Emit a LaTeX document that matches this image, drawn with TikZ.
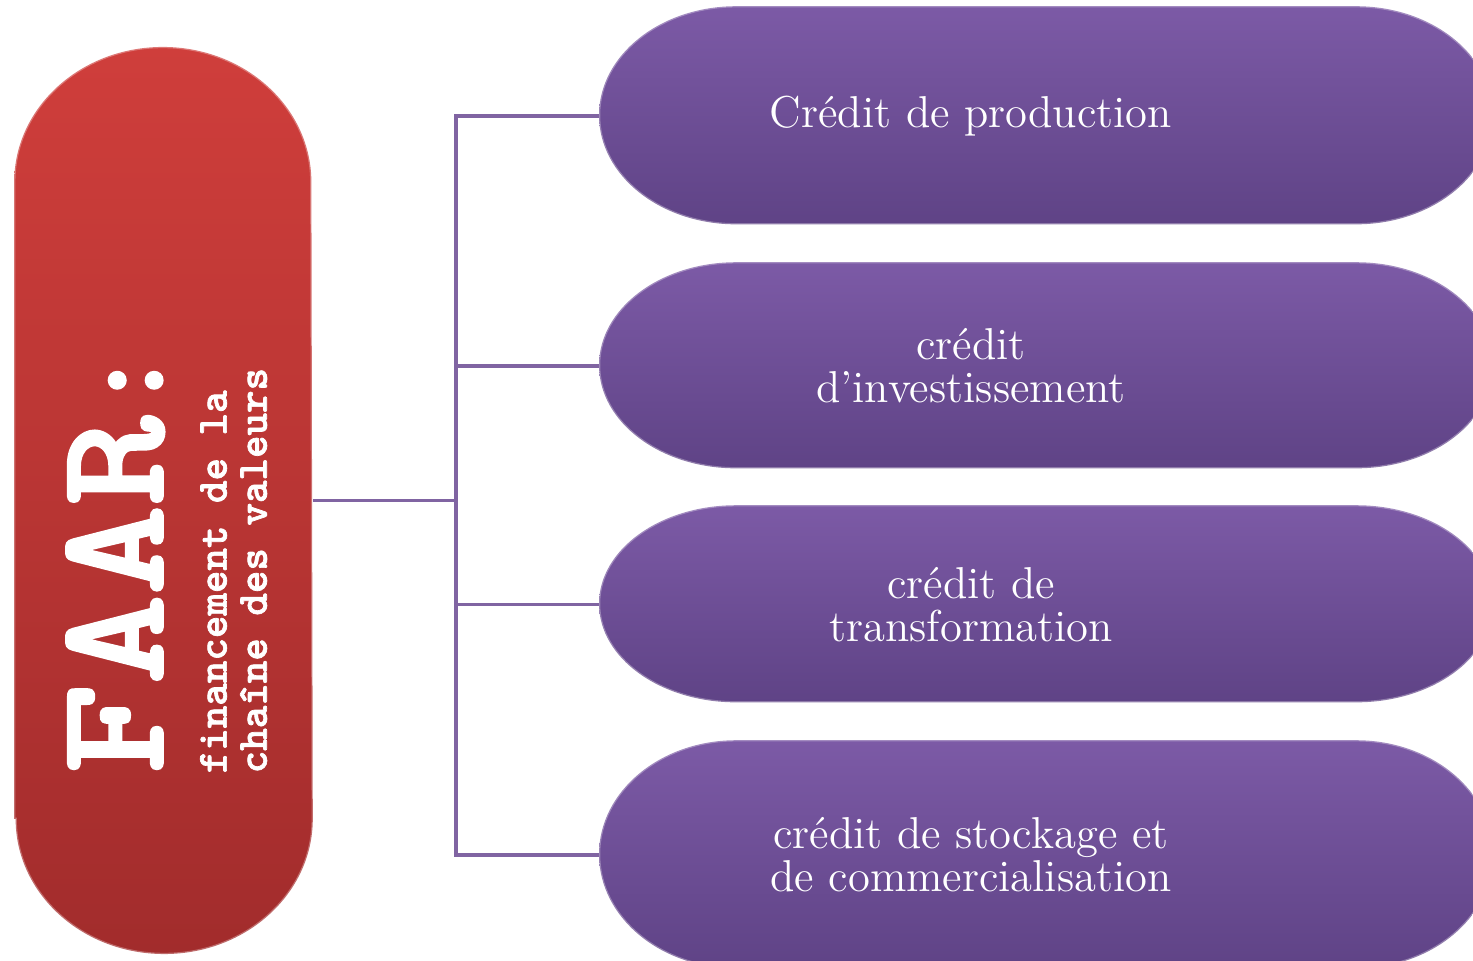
\documentclass[tikz,border=0pt]{standalone}
\usepackage{fontspec}
\usepackage{xcolor}
\usepackage{graphicx}
\usepackage{tikz}
\usetikzlibrary{calc, backgrounds}

\newfontfamily\faarfont{lmmonolt10-bold.otf}[FakeBold=1.6]

\definecolor{faarred}{HTML}{CF3E3B}
\definecolor{faardark}{HTML}{A22C2C}
\definecolor{credtop}{HTML}{7C5AA6}
\definecolor{credbot}{HTML}{5F4386}
\definecolor{linkviolet}{HTML}{8064A2}

\begin{document}
\begin{tikzpicture}[
    x=0.01cm, y=0.01cm,
    credit/.style={rectangle, minimum width=7.42cm, text=white, align=center, font=\fontsize{12.7}{12.2}\selectfont},
    faarbox/.style={rectangle, minimum width=2.97cm, minimum height=9.05cm, text=white},
    link/.style={draw=linkviolet, line width=1.1pt},
    rim/.style={draw=white, draw opacity=0.3, line width=0.7pt}
]
    \useasboundingbox (0,0) rectangle (1473,961);

    \node[faarbox] (faar) at (163.5,460.5) {\rotatebox{90}{\raisebox{-0.09cm}[\height][\depth]{\faarfont\def\arraystretch{0.95}%
        \begin{tabular}{@{}l@{\hspace{1.2cm}}}
        {\fontsize{44}{44}\selectfont\scalebox{1.1}[1]{FAAR}\kern0.02em\scalebox{0.8}{:}}\\[6.8pt]
        {\fontsize{12.2}{11.4}\selectfont financement de la}\\
        {\fontsize{12.2}{11.4}\selectfont chaîne des valeurs}
        \end{tabular}}}};

    \node[credit, minimum height=2.18cm] (prod) at (971,845) {Crédit de production};
    \node[credit, minimum height=2.06cm] (inv) at (971,595) {crédit\\d’investissement};
    \node[credit, minimum height=1.97cm] (transf) at (971,356.5) {crédit de\\transformation};
    \node[credit, minimum height=2.28cm] (stock) at (971,106) {crédit de stockage et\\de commercialisation};

    \begin{scope}[on background layer]
        \path[top color=faarred, bottom color=faardark, rim]
            ($(faar.south west)+(0,135)$) -- ($(faar.north west)-(0,135)$)
            arc[start angle=180, end angle=0, x radius=1.485cm, y radius=1.35cm]
            -- ($(faar.south east)+(0,135)$)
            arc[start angle=0, end angle=-180, x radius=1.485cm, y radius=1.35cm] -- cycle;
        \foreach \n/\ry in {prod/1.09cm, inv/1.03cm, transf/0.985cm, stock/1.14cm}
            \path[top color=credtop, bottom color=credbot, rim]
                ($(\n.north west)+(137,0)$) -- ++(620,0)
                arc[start angle=90, end angle=-90, x radius=1.37cm, y radius=\ry]
                -- ++(-620,0)
                arc[start angle=270, end angle=90, x radius=1.37cm, y radius=\ry] -- cycle;
    \end{scope}

    \coordinate (hub) at (456,460.5);
    \draw[link] (faar.east) -- (hub);
    \draw[link] (prod.west) -- (hub |- prod.west) -- (hub |- stock.west) -- (stock.west);
    \foreach \n in {inv,transf}
        \draw[link] (hub |- \n.west) -- (\n.west);
\end{tikzpicture}
\end{document}
